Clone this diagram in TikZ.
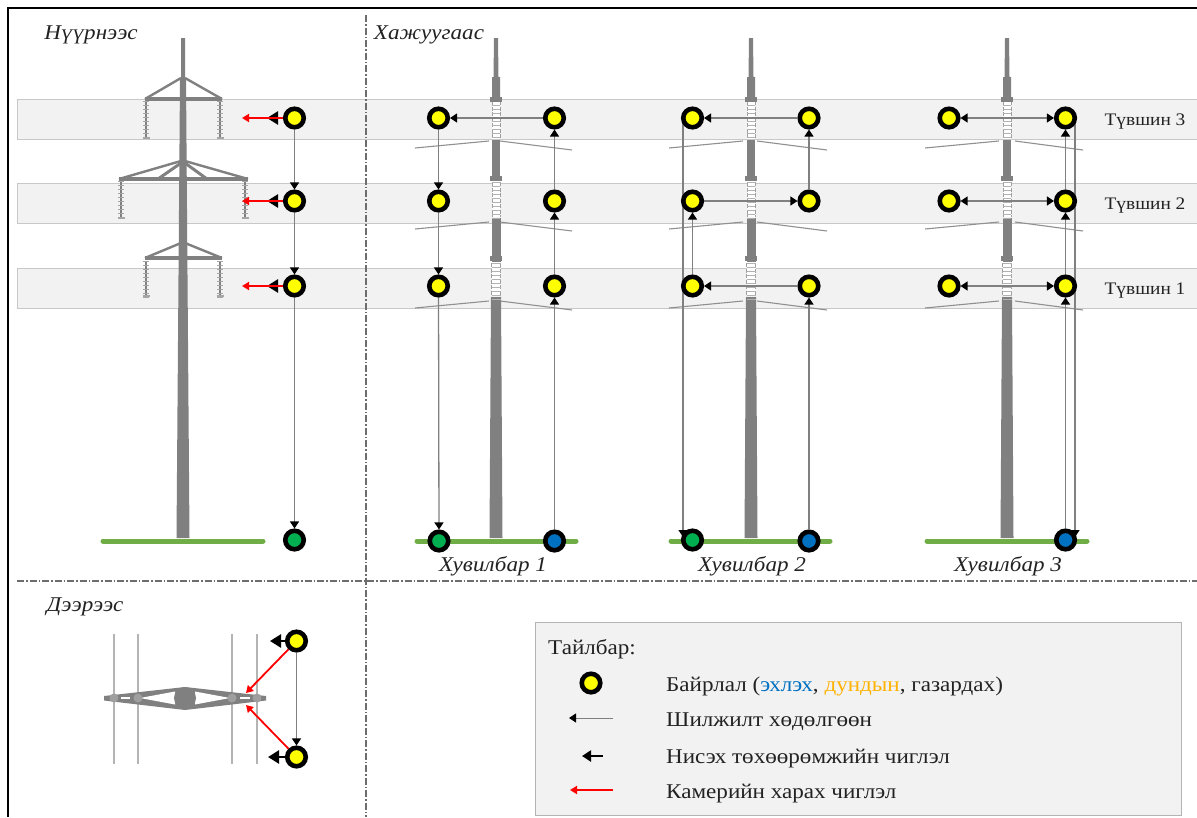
\documentclass[tikz,border=0pt]{standalone}
\usepackage{fontspec}
\setmainfont[FakeStretch=1.1]{Liberation Serif}
\usetikzlibrary{arrows.meta,calc,backgrounds}
\definecolor{steel}{HTML}{808080}
\definecolor{bandfill}{HTML}{F2F2F2}
\definecolor{bandline}{HTML}{C8C8C8}
\definecolor{wireline}{HTML}{909090}
\definecolor{grass}{HTML}{70AD47}
\definecolor{stationyellow}{HTML}{FFFF00}
\definecolor{stationgreen}{HTML}{00B050}
\definecolor{stationblue}{HTML}{0070C0}
\definecolor{inkcol}{HTML}{222222}
\tikzset{
  station/.style={circle,draw=black,line width=4.6pt,minimum size=18.5pt,inner sep=0pt},
  waypoint/.style={station,fill=stationyellow},
  startpoint/.style={station,fill=stationblue},
  landpoint/.style={station,fill=stationgreen},
  link/.style={draw=steel,line width=1.3pt,-{Triangle[length=7pt,width=9pt,color=black]}},
  heading/.style={draw=black,line width=2.4pt,-{Triangle[length=11pt,width=13pt,color=black]}},
  camera/.style={draw=red,line width=1.8pt,-{Triangle[length=7pt,width=8pt,color=red]}},
  band/.style={fill=bandfill,draw=bandline,line width=1pt},
  ground/.style={draw=grass,line width=5pt,line cap=round},
  arm/.style={draw=steel,line width=4pt},
  brace/.style={draw=steel,line width=2.4pt},
  cable/.style={draw=wireline,line width=1.2pt},
  divider/.style={draw=steel!85!black,line width=1.2pt,dash pattern=on 7pt off 2pt on 1.5pt off 2pt},
  viewtitle/.style={font=\itshape\fontsize{21}{21}\selectfont,text=inkcol,inner sep=0pt},
  leveltag/.style={font=\fontsize{17.6}{18}\selectfont,text=inkcol,inner sep=0pt},
  legendtext/.style={font=\fontsize{21}{22}\selectfont,text=inkcol,inner sep=0pt,anchor=west},
}
% Suspended insulator string: a spine with short crossing sheds
\newcommand{\insulatorstring}[3]{%
  \draw[steel,line width=1.2pt] (#1,#2) -- (#1,#3);
  \foreach \yy in {0,4,...,36}{\draw[gray!70,line width=1pt] (#1-3,#2+\yy) -- (#1+3,#2+\yy);}
  \draw[gray!70,line width=1.2pt] (#1-3.5,#3) -- (#1+3.5,#3);
}
% Open lattice section of a mast seen from the side
\newcommand{\latticepart}[4]{%
  \fill[white] (#1-#4,#2) rectangle (#1+#4,#3);
  \draw[gray!75,line width=1pt,dash pattern=on 4pt off 1.5pt] (#1-#4,#2) -- (#1-#4,#3);
  \draw[gray!75,line width=1pt,dash pattern=on 4pt off 1.5pt] (#1+#4,#2) -- (#1+#4,#3);
  \foreach \yy in {0,4,...,36}{\draw[gray!60,line width=.7pt] (#1-#4,#2+\yy) -- (#1+#4,#2+\yy);}
}
% Mast with lattice sections, seen from the side
\newcommand{\sidemast}[1]{%
  \fill[steel] (#1-2,38) -- (#1+2,38) -- (#1+2.5,77) -- (#1+4,77) -- (#1+4,100) -- (#1-4,100) -- (#1-4,77) -- (#1-2.5,77) -- cycle;
  \fill[steel] (#1-4.2,140) rectangle (#1+4.2,180);
  \fill[steel] (#1-4.5,218) rectangle (#1+4.5,262);
  \fill[steel] (#1-5,297) -- (#1+5,297) -- (#1+6.5,538) -- (#1-6.5,538) -- cycle;
  \latticepart{#1}{101}{139}{4}
  \latticepart{#1}{182}{217}{4}
  \latticepart{#1}{263}{296}{4.5}
  \fill[steel] (#1-6,97) rectangle (#1+6,102);
  \fill[steel] (#1-6,176) rectangle (#1+6,181);
  \fill[steel] (#1-6,256) rectangle (#1+6,261);
}
% Cross-arm wires of a side-view mast
\newcommand{\sidewires}[3]{%
  \foreach \yy in {148,229,308}{
    \draw[wireline,line width=1.1pt] (#1,\yy) -- (#1+74,\yy-7);
    \draw[wireline,line width=1.1pt] (#2,\yy-7) -- (#3,\yy+2);
  }
}
\begin{document}
\begin{tikzpicture}[x=1pt,y=-1pt]
\useasboundingbox (0,0) rectangle (1197,817);

\begin{pgfonlayer}{background}
  % sheet edges
  \fill[white] (0,0) rectangle (1197,817);
  \draw[black,line width=1.8pt] (8,817) -- (8,8) -- (1197,8);

  % height bands
  \draw[band] (17,99) rectangle (1197,139);
  \draw[band] (17,183) rectangle (1197,223);
  \draw[band] (17,268) rectangle (1197,308);

  % view dividers
  \draw[divider] (366,15) -- (366,817);
  \draw[divider] (17,581) -- (1197,581);

  % front-view tower
  \fill[steel] (181,38) -- (185,38) -- (185,78) -- (186,78) -- (189.5,538) -- (176.5,538) -- (180,78) -- (181,78) -- cycle;
  \draw[arm] (145,99) -- (222,99);
  \draw[brace] (145,99) -- (181,78) (222,99) -- (185,78);
  \draw[arm] (119,179) -- (248,179);
  \draw[brace] (119,179) -- (181,161) (248,179) -- (185,161);
  \draw[brace,line width=3pt] (158,179) -- (181,163) (207,179) -- (185,163);
  \draw[arm] (145,258) -- (222,258);
  \draw[brace] (145,258) -- (181,243) (222,258) -- (185,243);
  \insulatorstring{146}{101}{138}
  \insulatorstring{220}{101}{138}
  \insulatorstring{121}{181}{218}
  \insulatorstring{245}{181}{218}
  \insulatorstring{146}{261}{296}
  \insulatorstring{220}{261}{296}

  % side-view towers
  \sidewires{415}{500}{572}
  \sidewires{669}{757}{827}
  \sidewires{925}{1015}{1083}
  \sidemast{496}
  \sidemast{751}
  \sidemast{1007}

  % ground lines
  \draw[ground] (103,541) -- (263,541);
  \draw[ground] (417,541) -- (576,541);
  \draw[ground] (671,541) -- (830,541);
  \draw[ground] (927,541) -- (1087,541);

  % top-view cross-arm
  \foreach \xx in {114,138,232,257}{\draw[bandline!90!black,line width=1.6pt] (\xx,634) -- (\xx,764);}
  \fill[steel] (104,696) -- (185,687) -- (266,696) -- (266,700.5) -- (185,710) -- (104,700.5) -- cycle;
  \fill[white] (140,698) -- (175,691.5) -- (175,704.5) -- cycle;
  \fill[white] (195,691.5) -- (230,698) -- (195,704.5) -- cycle;
  \fill[white] (121,697) rectangle (130,699);
  \fill[white] (240,697) rectangle (250,699);
  \fill[steel] (185,698) circle (11);
  \foreach \xx in {114,138,232,257}{\fill[gray!75] (\xx,698) circle (4.5);}
\end{pgfonlayer}

% stations, front view
\node[waypoint] (fa) at (294.5,118) {};
\node[waypoint] (fb) at (294.5,201) {};
\node[waypoint] (fc) at (294.5,286) {};
\node[landpoint] (fg) at (294.5,540) {};
% stations, variant 1
\node[waypoint] (aLt) at (438.5,118) {};
\node[waypoint] (aLm) at (438.5,201) {};
\node[waypoint] (aLb) at (438.5,286) {};
\node[landpoint] (aG) at (439,541) {};
\node[waypoint] (aRt) at (554.5,118) {};
\node[waypoint] (aRm) at (554.5,201) {};
\node[waypoint] (aRb) at (554.5,286) {};
\node[startpoint] (aS) at (554.5,541) {};
% stations, variant 2
\node[waypoint] (bLt) at (692.5,118) {};
\node[waypoint] (bLm) at (692.5,201) {};
\node[waypoint] (bLb) at (692.5,286) {};
\node[landpoint] (bG) at (692.5,540) {};
\node[waypoint] (bRt) at (809,118) {};
\node[waypoint] (bRm) at (809,201) {};
\node[waypoint] (bRb) at (809,286) {};
\node[startpoint] (bS) at (809,541) {};
% stations, variant 3
\node[waypoint] (cLt) at (949,118) {};
\node[waypoint] (cLm) at (949,201) {};
\node[waypoint] (cLb) at (949,286) {};
\node[waypoint] (cRt) at (1065.5,118) {};
\node[waypoint] (cRm) at (1065.5,201) {};
\node[waypoint] (cRb) at (1065.5,286) {};
\node[startpoint] (cS) at (1065.5,540) {};
% stations, top view
\node[waypoint] (tA) at (296.5,641) {};
\node[waypoint] (tB) at (296.5,757) {};
% legend panel
\node[draw=bandline!90!black,fill=bandfill,line width=1pt,minimum width=646pt,minimum height=193pt,inner sep=0pt,anchor=north west] (legendbox) at (535,622) {};
\node[waypoint] (keyS) at (591,683) {};

% free ends of the direction arrows
\coordinate (faH) at (267,118);
\coordinate (fbH) at (267,201);
\coordinate (fcH) at (267,286);
\coordinate (faC) at (242,118);
\coordinate (fbC) at (242,201);
\coordinate (fcC) at (242,286);
\coordinate (tAH) at (270,641);
\coordinate (tBH) at (268,757);
\coordinate (tAC) at (246,693);
\coordinate (tBC) at (246,705);
\coordinate (keyMoveA) at (613,718);
\coordinate (keyMoveB) at (569,718);
\coordinate (keyHeadA) at (603,756);
\coordinate (keyHeadB) at (582,756);
\coordinate (keyCamA) at (613,790);
\coordinate (keyCamB) at (570,790);

\begin{pgfonlayer}{background}
  % flight paths
  \draw[link] (fa) -- (fb);
  \draw[link] (fb) -- (fc);
  \draw[link] (fc) -- (fg);

  \draw[link] (aRt) -- (aLt);
  \draw[link] (aLt) -- (aLm);
  \draw[link] (aLm) -- (aLb);
  \draw[link] (aLb) -- (aG);
  \draw[link] (aS) -- (aRb);
  \draw[link] (aRb) -- (aRm);
  \draw[link] (aRm) -- (aRt);

  \draw[link] (bS) -- (bRb);
  \draw[link] (bRb) -- (bLb);
  \draw[link] (bLb) -- (bLm);
  \draw[link] (bLm) -- (bRm);
  \draw[link] (bRm) -- (bRt);
  \draw[link] (bRt) -- (bLt);
  \draw[link] ($(bLt.center)+(-9.5,0)$) -- ($(bG.center)+(-9.5,-3)$);

  \draw[link] (cS) -- (cRb);
  \draw[link] (cRb) -- (cRm);
  \draw[link] (cRm) -- (cRt);
  \foreach \lv in {t,m,b}{
    \draw[link,{Triangle[length=7pt,width=9pt,color=black]}-{Triangle[length=7pt,width=9pt,color=black]}] (cL\lv) -- (cR\lv);
  }
  \draw[link] ($(cRt.center)+(9.5,0)$) -- ($(cS.center)+(9.5,-3)$);

  \draw[link] (tA) -- (tB);

  % aircraft heading, then camera axis over it
  \draw[heading] (fa) -- (faH);
  \draw[heading] (fb) -- (fbH);
  \draw[heading] (fc) -- (fcH);
  \draw[heading] (tA) -- (tAH);
  \draw[heading] (tB) -- (tBH);
  \draw[camera] (fa) -- (faC);
  \draw[camera] (fb) -- (fbC);
  \draw[camera] (fc) -- (fcC);
  \draw[camera] (tA) -- (tAC);
  \draw[camera] (tB) -- (tBC);
\end{pgfonlayer}

% legend symbols
\draw[link,line width=1pt] (keyMoveA) -- (keyMoveB);
\draw[heading,-{Triangle[length=9pt,width=11pt,color=black]}] (keyHeadA) -- (keyHeadB);
\draw[camera] (keyCamA) -- (keyCamB);

% view titles
\node[viewtitle] (tFront) at (91,35) {Нүүрнээс};
\node[viewtitle] (tSide) at (429,35) {Хажуугаас};
\node[viewtitle] (tTop) at (85,607) {Дээрээс};
\node[viewtitle] (tVarA) at (493,566) {Хувилбар 1};
\node[viewtitle] (tVarB) at (752,566) {Хувилбар 2};
\node[viewtitle] (tVarC) at (1008,566) {Хувилбар 3};

% height labels
\node[leveltag] (lv3) at (1145,122) {Түвшин 3};
\node[leveltag] (lv2) at (1145,206) {Түвшин 2};
\node[leveltag] (lv1) at (1145,291) {Түвшин 1};

% legend text
\node[legendtext] (lgHead) at (548,649) {Тайлбар:};
\node[legendtext] (lgA) at (666,686) {Байрлал (\textcolor{stationblue}{эхлэх}, \textcolor{orange!60!yellow}{дундын}, газардах)};
\node[legendtext] (lgB) at (666,722) {Шилжилт хөдөлгөөн};
\node[legendtext] (lgC) at (666,759) {Нисэх төхөөрөмжийн чиглэл};
\node[legendtext] (lgD) at (666,794) {Камерийн харах чиглэл};
\end{tikzpicture}
\end{document}
